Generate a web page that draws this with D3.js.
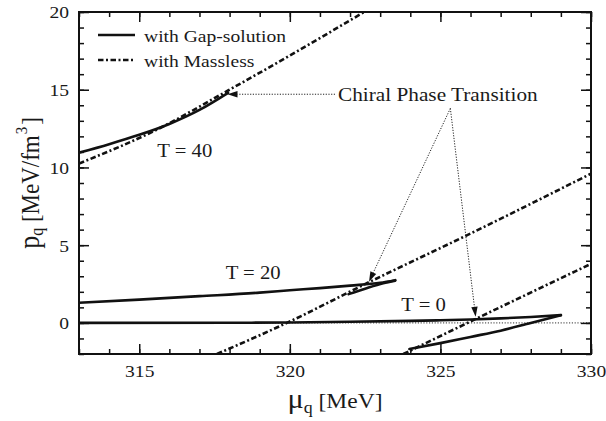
<!DOCTYPE html>
<html>
<head>
<meta charset="utf-8">
<script src="https://cdn.jsdelivr.net/npm/d3@7"></script>
<style>
body { margin: 0; background: #fff; }
svg { display: block; }
text { font-family: "Liberation Serif", "Times New Roman", serif; fill: #1a1a1a; }
</style>
</head>
<body>
<svg id="chart"></svg>
<script>
// values, pairs of [mu_q (MeV), p_q (MeV/fm^3)]
let gapT40 = [[313, 10.95], [314, 11.5], [315, 12.1], [316, 12.8], [317, 13.7], [317.95, 14.8]]
let gapT20 = [[313, 1.3], [315, 1.5], [317, 1.72], [319, 1.95], [320, 2.1], [321, 2.24], [322, 2.4], [323, 2.58], [323.5, 2.75]]
let gapT20b = [[321.95, 1.85], [322.5, 2.2], [323.1, 2.55], [323.5, 2.72]]
let gapT0 = [[313, 0], [318, 0.01], [320, 0.03], [322, 0.07], [324, 0.13], [325, 0.17], [326, 0.22], [327, 0.29], [328, 0.38], [329, 0.5]]
let gapT0b = [[323.97, -1.68], [325, -1.3], [326, -0.9], [327, -0.5], [328, 0.0], [329, 0.5]]

let masslessT40 = [[313, 10.25], [315.6, 12.45], [317.95, 14.95], [320, 17.2], [322.47, 20]]
let masslessT20 = [[317.58, -2], [319.9, 0], [322.63, 2.62], [326, 5.75], [330, 9.6]]
let masslessT0 = [[323.77, -2], [326.2, 0.28], [330, 3.8]]

let muTicks = [315, 320, 325, 330]
let muMinor = d3.range(313, 331, 1)
let pTicks = [0, 5, 10, 15, 20]
let pMinor = d3.range(-2, 21, 1)

// annotation anchors (data coords)
let tempLabels = [
    {text: 'T = 40', at: [315.6, 10.7]},
    {text: 'T = 20', at: [317.87, 2.84]},
    {text: 'T = 0', at: [323.7, 0.77]}
]
let noteText = 'Chiral Phase Transition'
let noteAt = [321.6, 14.28]
let noteLeader = [321.5, 14.71]
let noteApex = [325.33, 13.8]
let noteTips = [[317.93, 14.71], [322.63, 2.65], [326.17, 0.39]]

let width = 606
let height = 421
let plotLeft = 79, plotRight = 591, plotTop = 12, plotBottom = 354
let sx = 1.12   // the original figure is a bit stretched sideways

let svg = d3.select('#chart').attr('width', width).attr('height', height)

let xScale = d3.scaleLinear().domain([313, 330]).range([plotLeft, plotRight])
let yScale = d3.scaleLinear().domain([-2, 20]).range([plotBottom, plotTop])

svg.append('defs').append('clipPath').attr('id', 'plot')
    .append('rect')
    .attr('x', plotLeft).attr('y', plotTop)
    .attr('width', plotRight - plotLeft).attr('height', plotBottom - plotTop)

// zero line
svg.append('line')
    .attr('x1', xScale(313)).attr('x2', xScale(330))
    .attr('y1', yScale(0)).attr('y2', yScale(0))
    .attr('stroke', '#333').attr('stroke-width', 1)
    .attr('stroke-dasharray', '1.2,1.6')

let line = d3.line()
    .x(d => xScale(d[0]))
    .y(d => yScale(d[1]))
    .curve(d3.curveMonotoneX)

let curves = svg.append('g').attr('clip-path', 'url(#plot)')

let drawMassless = (data) => {
    curves.append('path')
        .datum(data)
        .attr('d', line)
        .attr('fill', 'none')
        .attr('stroke', '#111')
        .attr('stroke-width', 2.6)
        .attr('stroke-dasharray', '5.5,2.5,2,2.5')
}
let drawGap = (data) => {
    curves.append('path')
        .datum(data)
        .attr('d', line)
        .attr('fill', 'none')
        .attr('stroke', '#111')
        .attr('stroke-width', 2.6)
        .attr('stroke-linecap', 'round')
}

drawMassless(masslessT40)
drawMassless(masslessT20)
drawMassless(masslessT0)
drawGap(gapT40)
drawGap(gapT20)
drawGap(gapT20b)
drawGap(gapT0)
drawGap(gapT0b)

// axes, ticks pointing inward
let noDomain = g => g.select('.domain').remove()

let makeAxes = () => {
    svg.append('g').attr('transform', 'translate(0,' + plotBottom + ')')
        .call(d3.axisBottom(xScale).tickValues(muMinor).tickSize(-5).tickFormat(''))
        .call(noDomain)
    svg.append('g').attr('transform', 'translate(0,' + plotTop + ')')
        .call(d3.axisTop(xScale).tickValues(muMinor).tickSize(-5).tickFormat(''))
        .call(noDomain)
    svg.append('g').attr('transform', 'translate(' + plotLeft + ',0)')
        .call(d3.axisLeft(yScale).tickValues(pMinor).tickSize(-5).tickFormat(''))
        .call(noDomain)
    svg.append('g').attr('transform', 'translate(' + plotRight + ',0)')
        .call(d3.axisRight(yScale).tickValues(pMinor).tickSize(-5).tickFormat(''))
        .call(noDomain)

    let xAxis = svg.append('g').attr('id', 'x-axis')
        .attr('transform', 'translate(0,' + plotBottom + ')')
        .call(d3.axisBottom(xScale).tickValues(muTicks).tickSize(-10).tickFormat(d3.format('d')))
        .call(noDomain)
    xAxis.selectAll('text')
        .attr('y', 23).attr('dy', null)
        .attr('transform', 'scale(' + sx + ',1)')

    svg.append('g').attr('transform', 'translate(0,' + plotTop + ')')
        .call(d3.axisTop(xScale).tickValues(muTicks).tickSize(-10).tickFormat(''))
        .call(noDomain)

    let yAxis = svg.append('g').attr('id', 'y-axis')
        .attr('transform', 'translate(' + plotLeft + ',0)')
        .call(d3.axisLeft(yScale).tickValues(pTicks).tickSize(-10).tickFormat(d3.format('d')))
        .call(noDomain)
    yAxis.selectAll('text')
        .attr('x', -10 / sx).attr('dy', '0.34em')
        .attr('transform', 'scale(' + sx + ',1)')

    svg.append('g').attr('transform', 'translate(' + plotRight + ',0)')
        .call(d3.axisRight(yScale).tickValues(pTicks).tickSize(-10).tickFormat(''))
        .call(noDomain)

    svg.selectAll('.tick line').attr('stroke', '#111').attr('stroke-width', 1.5)
    svg.selectAll('.tick text').attr('font-size', 17.5).attr('font-family', null).attr('fill', '#1a1a1a')

    svg.append('rect')
        .attr('x', plotLeft).attr('y', plotTop)
        .attr('width', plotRight - plotLeft).attr('height', plotBottom - plotTop)
        .attr('fill', 'none').attr('stroke', '#111').attr('stroke-width', 2)
}
makeAxes()

// axis titles
let xTitle = svg.append('text')
    .attr('text-anchor', 'middle')
    .attr('transform', 'translate(' + ((plotLeft + plotRight) / 2) + ',408) scale(' + sx + ',1)')
xTitle.append('tspan').attr('font-size', 27).text('μ')
xTitle.append('tspan').attr('font-size', 16).attr('dy', 5).text('q')
xTitle.append('tspan').attr('font-size', 21).attr('dy', -5).text(' [MeV]')

let yTitle = svg.append('text')
    .attr('text-anchor', 'middle')
    .attr('transform', 'translate(39,' + ((plotTop + plotBottom) / 2) + ') scale(' + sx + ',1) rotate(-90)')
yTitle.append('tspan').attr('font-size', 26).text('p')
yTitle.append('tspan').attr('font-size', 16).attr('dy', 4).text('q')
yTitle.append('tspan').attr('font-size', 23).attr('dy', -4).text(' [MeV/fm')
yTitle.append('tspan').attr('font-size', 15).attr('dy', -11).attr('dx', 1).text('3')
yTitle.append('tspan').attr('font-size', 23).attr('dy', 11).attr('dx', 2).text(']')

// legend
let legendRows = [
    {label: 'with Gap-solution', y: 35, dash: null},
    {label: 'with Massless', y: 60, dash: '5.5,2.5,2,2.5'}
]
legendRows.forEach(r => {
    svg.append('line')
        .attr('x1', 98).attr('x2', 135)
        .attr('y1', r.y).attr('y2', r.y)
        .attr('stroke', '#111').attr('stroke-width', 2.6)
        .attr('stroke-dasharray', r.dash)
    svg.append('text')
        .attr('font-size', 17.5)
        .attr('transform', 'translate(144,' + (r.y + 6.5) + ') scale(' + sx + ',1)')
        .text(r.label)
})

// temperature labels
tempLabels.forEach(t => {
    svg.append('text')
        .attr('font-size', 18.5)
        .attr('transform', 'translate(' + xScale(t.at[0]) + ',' + yScale(t.at[1]) + ') scale(' + sx + ',1)')
        .text(t.text)
})

// chiral phase transition note with dotted arrows
svg.append('text')
    .attr('font-size', 19)
    .attr('transform', 'translate(' + xScale(noteAt[0]) + ',' + yScale(noteAt[1]) + ') scale(' + sx + ',1)')
    .text(noteText)

let arrow = (from, tip) => {
    let x0 = xScale(from[0]), y0 = yScale(from[1])
    let x1 = xScale(tip[0]), y1 = yScale(tip[1])
    let len = Math.hypot(x1 - x0, y1 - y0)
    let ux = (x1 - x0) / len, uy = (y1 - y0) / len
    let headLen = 10, headW = 3.2
    let bx = x1 - ux * headLen, by = y1 - uy * headLen
    svg.append('line')
        .attr('x1', x0).attr('y1', y0).attr('x2', bx).attr('y2', by)
        .attr('stroke', '#222').attr('stroke-width', 1)
        .attr('stroke-dasharray', '1.2,1.5')
    svg.append('path')
        .attr('d', 'M' + x1 + ',' + y1 +
            'L' + (bx - uy * headW) + ',' + (by + ux * headW) +
            'L' + (bx + uy * headW) + ',' + (by - ux * headW) + 'Z')
        .attr('fill', '#111')
}
arrow(noteLeader, noteTips[0])
arrow(noteApex, noteTips[1])
arrow(noteApex, noteTips[2])
</script>
</body>
</html>
